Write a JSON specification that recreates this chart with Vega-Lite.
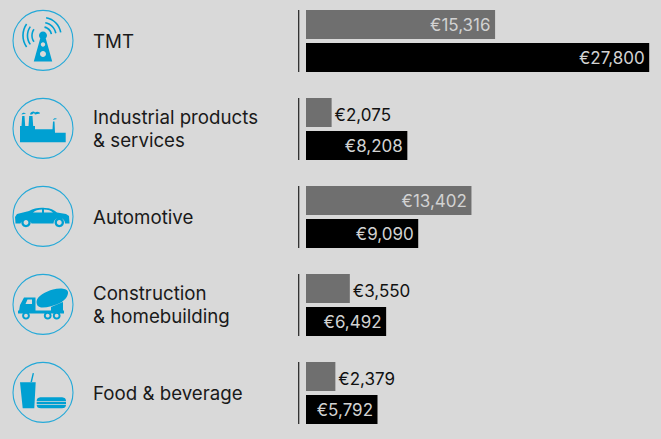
{
"$schema":"https://vega.github.io/schema/vega-lite/v6.json",
"width":661,"height":439,"padding":0,
"autosize":{"type":"fit","contains":"padding"},
"background":"#d9d9d9",
"config":{"view":{"stroke":null}},
"data":{"values":[
{"sector":"TMT","name":"TMT","series":"a","value":15316,"amount":"€15,316","inside":true},
{"sector":"TMT","name":"TMT","series":"b","value":27800,"amount":"€27,800","inside":true},
{"sector":"Industrial","name":"Industrial products\n& services","series":"a","value":2075,"amount":"€2,075","inside":false},
{"sector":"Industrial","name":"Industrial products\n& services","series":"b","value":8208,"amount":"€8,208","inside":true},
{"sector":"Automotive","name":"Automotive","series":"a","value":13402,"amount":"€13,402","inside":true},
{"sector":"Automotive","name":"Automotive","series":"b","value":9090,"amount":"€9,090","inside":true},
{"sector":"Construction","name":"Construction\n& homebuilding","series":"a","value":3550,"amount":"€3,550","inside":false},
{"sector":"Construction","name":"Construction\n& homebuilding","series":"b","value":6492,"amount":"€6,492","inside":true},
{"sector":"Food","name":"Food & beverage","series":"a","value":2379,"amount":"€2,379","inside":false},
{"sector":"Food","name":"Food & beverage","series":"b","value":5792,"amount":"€5,792","inside":true}
]},
"encoding":{
"y":{"field":"sector","type":"nominal","sort":null,"axis":null,"scale":{"range":[-3,437],"paddingInner":0,"paddingOuter":0}}
},
"layer":[
{"mark":{"type":"bar","orient":"horizontal"},
 "encoding":{
  "x":{"field":"value","type":"quantitative","axis":null,"scale":{"domain":[-24786,28755],"nice":false,"zero":false}},
  "yOffset":{"field":"series","type":"nominal","scale":{"paddingInner":0.121,"paddingOuter":0.394}},
  "color":{"field":"series","type":"nominal","legend":null,"scale":{"domain":["a","b"],"range":["#6f6f6f","#000000"]}}
 }},
{"transform":[{"filter":"datum.inside"}],
 "mark":{"type":"text","align":"right","baseline":"middle","dx":-4.5,"dy":1.5,"font":"Inter","fontSize":17,"fill":"#d2d2d2"},
 "encoding":{
  "x":{"field":"value","type":"quantitative"},
  "yOffset":{"field":"series","type":"nominal"},
  "text":{"field":"amount","type":"nominal"}
 }},
{"transform":[{"filter":"!datum.inside"}],
 "mark":{"type":"text","align":"left","baseline":"middle","dx":3,"dy":3,"font":"Inter","fontSize":17,"fill":"#111111"},
 "encoding":{
  "x":{"field":"value","type":"quantitative"},
  "yOffset":{"field":"series","type":"nominal"},
  "text":{"field":"amount","type":"nominal"}
 }},
{"transform":[{"filter":"datum.series=='a'"}],
 "mark":{"type":"tick","size":62,"thickness":1.2,"color":"#222222","opacity":1},
 "encoding":{"x":{"datum":-591,"type":"quantitative"}}},
{"transform":[{"filter":"datum.series=='a' && indexof(datum.name,'\\n')<0"}],
 "mark":{"type":"text","align":"left","baseline":"middle","dy":1,"font":"Inter","fontSize":18.7,"fill":"#1a1a1a"},
 "encoding":{"x":{"datum":-17253,"type":"quantitative"},"text":{"field":"name","type":"nominal"}}},
{"transform":[{"filter":"datum.series=='a' && indexof(datum.name,'\\n')>=0"}],
 "mark":{"type":"text","align":"left","baseline":"middle","dy":-11,"font":"Inter","fontSize":18.7,"lineBreak":"\n","lineHeight":23,"fill":"#1a1a1a"},
 "encoding":{"x":{"datum":-17253,"type":"quantitative"},"text":{"field":"name","type":"nominal"}}},
{"transform":[{"filter":"datum.series=='a'"}],
 "mark":{"type":"point","shape":"M-30,-0.6A30,30 0 1 1 30,-0.6A30,30 0 1 1 -30,-0.6Z","size":4,"filled":false,"stroke":"#25a9d8","strokeWidth":1.1,"opacity":1},
 "encoding":{"x":{"datum":-21303,"type":"quantitative"}}},
{"transform":[{"filter":"datum.series=='a'"}],
 "mark":{"type":"point","size":4,"filled":true,"fill":"#00a0d2","opacity":1},
 "encoding":{
  "x":{"datum":-21303,"type":"quantitative"},
  "shape":{"field":"sector","type":"nominal","legend":null,"scale":{"domain":["TMT","Industrial","Automotive","Construction","Food"],"range":[
"M-9.66,-12.27A11.8,11.8 0 0 0 -9.66,1.27L-8.35,0.35A10.2,10.2 0 0 1 -8.35,-11.35ZM-13.35,-14.86A16.3,16.3 0 0 0 -13.35,3.86L-12.04,2.94A14.7,14.7 0 0 1 -12.04,-13.94ZM-17.04,-17.44A20.8,20.8 0 0 0 -17.04,6.44L-15.72,5.52A19.2,19.2 0 0 1 -15.72,-16.52ZM1.62,-14.66A9.3,9.3 0 0 1 9.16,-7.12L7.58,-6.84A7.7,7.7 0 0 0 1.34,-13.08ZM2.4,-19.09A13.8,13.8 0 0 1 13.59,-7.9L12.02,-7.62A12.2,12.2 0 0 0 2.12,-17.52ZM3.27,-24.02A18.8,18.8 0 0 1 18.52,-8.77L16.94,-8.49A17.2,17.2 0 0 0 2.99,-22.44ZM-4,-5.5A4,4 0 1 1 4,-5.5A4,4 0 1 1 -4,-5.5ZM-2.4,-4L2.4,-4L9.2,20.5L-9.2,20.5ZM-2.2,3.5A2.2,2.2 0 1 0 2.2,3.5A2.2,2.2 0 1 0 -2.2,3.5ZM-3,13A3,3 0 1 0 3,13A3,3 0 1 0 -3,13Z",
"M-23,13.3L-23,-3L-21.5,-3L-20.8,-13L-18.5,-13L-17.8,-3L-14.5,-3L-13.8,-13L-10.5,-13L-9.8,-3L-8,-3L-8,0.3L9.5,0.3L10,-7.5L11.5,-7.5L12,3.7L22.7,3.7L22.7,13.3ZM-13,-14.5C-13,-17 -9,-18.5 -8,-16.5C-6,-18 -3,-17 -3,-15.5L-8,-14.5L-9,-16L-11,-14.5ZM-21.5,-14.5C-21,-16.5 -18.5,-16.5 -17,-15.5L-19,-15ZM10,-9C10.5,-11 13,-11 14,-10L11.5,-9.5Z",
"M-27.5,6.5L-28,0L-26,-3L-14,-6C-9,-9 -3,-9.5 2,-9C7,-9 11,-7 14,-4.5L23,-3L26,-1L26.5,6.5L22,6.5A5.7,5.7 0 0 0 10.6,6.5L-11.5,6.5A5.7,5.7 0 0 0 -22.5,6.5ZM-10,-4.5L-1,-4.5L-1,-7.5C-5,-7.5 -8,-6.5 -10,-4.5ZM1,-4.5L10,-4.5C8,-6.5 5,-7.5 1,-7.5ZM-21.7,5.5A4.7,4.7 0 1 1 -12.3,5.5A4.7,4.7 0 1 1 -21.7,5.5ZM-19.4,5.5A2.4,2.4 0 1 0 -14.6,5.5A2.4,2.4 0 1 0 -19.4,5.5ZM11.6,5.5A4.7,4.7 0 1 1 21,5.5A4.7,4.7 0 1 1 11.6,5.5ZM13.9,5.5A2.4,2.4 0 1 0 18.7,5.5A2.4,2.4 0 1 0 13.9,5.5Z",
"M-6.5,-3C-6.5,-9 3,-13.5 10,-15.5C16,-17 24,-17 25,-13C25.5,-8.5 21,-4 17,-2C11,1 3,3 -2,2.5C-5,2 -6.5,0 -6.5,-3ZM8,2L20,-3L20,6.5L8,6.5ZM-25,5.5L21,5.5L21,8.5L-25,8.5ZM-24,6L-23,0L-19,-7.5L-7.5,-7.5L-7.5,6ZM-17.5,-1L-11,-1L-11,-5.5L-15.5,-5.5ZM-20.9,10.7A3.9,3.9 0 1 1 -13.1,10.7A3.9,3.9 0 1 1 -20.9,10.7ZM-18.9,10.7A1.9,1.9 0 1 0 -15.1,10.7A1.9,1.9 0 1 0 -18.9,10.7ZM0.8,10.7A3.9,3.9 0 1 1 8.6,10.7A3.9,3.9 0 1 1 0.8,10.7ZM2.8,10.7A1.9,1.9 0 1 0 6.6,10.7A1.9,1.9 0 1 0 2.8,10.7ZM9.8,10.7A3.9,3.9 0 1 1 17.6,10.7A3.9,3.9 0 1 1 9.8,10.7ZM11.8,10.7A1.9,1.9 0 1 0 15.6,10.7A1.9,1.9 0 1 0 11.8,10.7Z",
"M-23,-10.7L-7.3,-10.7L-8.7,15.3L-20.3,15.3ZM-12.5,-11L-10.3,-20L-9,-19.7L-11,-11ZM-6.3,8.2C-6.3,5 -4,4.3 -2,4.3L18,4.3C21,4.3 23,5 23,8.2ZM-6.3,9L23,9L23,11.2L-6.3,11.2ZM-6.3,12L23,12C23,14 21.5,15.3 19,15.3L-2,15.3C-5,15.3 -6.3,14 -6.3,12Z"
]}}
 }}
]}
